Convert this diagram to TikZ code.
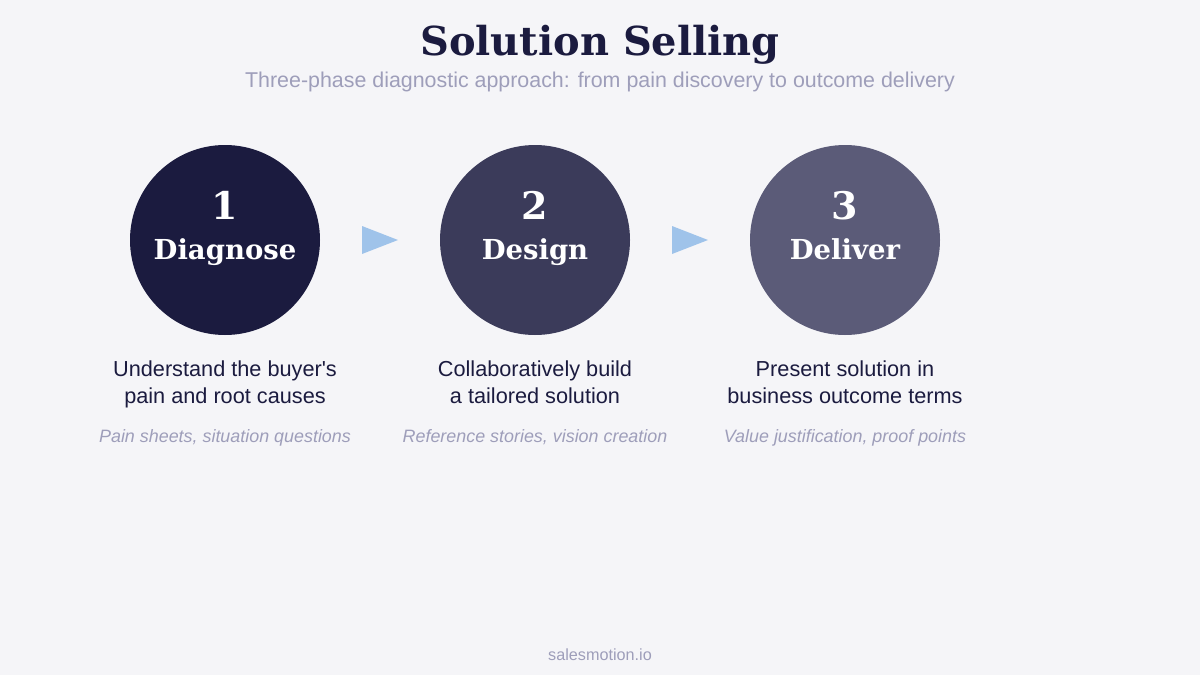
\documentclass[tikz,border=0pt]{standalone}
\usepackage{fontspec}
\setmainfont{DejaVu Serif}
\newfontfamily\sansf{Liberation Sans}
\definecolor{bgc}{HTML}{F5F5F8}
\definecolor{navy}{HTML}{1B1B3F}
\definecolor{c2col}{HTML}{3B3B5A}
\definecolor{c3col}{HTML}{5B5B78}
\definecolor{arrowc}{HTML}{9FC3EA}
\definecolor{subc}{HTML}{9E9EBA}
\tikzset{
  phase/.style={circle, minimum size=190pt, inner sep=0pt, draw=none},
  num/.style={anchor=base, text=white, font=\fontsize{38}{38}\selectfont\bfseries},
  pname/.style={anchor=base, text=white, font=\fontsize{27.5}{28}\selectfont\bfseries},
  desc/.style={anchor=base, text=navy, align=center, font=\sansf\fontsize{21.7}{27}\selectfont},
  tools/.style={anchor=base, text=subc, font=\sansf\itshape\fontsize{17.9}{20}\selectfont},
  tri/.style={fill=arrowc},
}
\begin{document}
\begin{tikzpicture}[x=1pt,y=-1pt]
\useasboundingbox (0,0) rectangle (1200,675);
\fill[bgc] (0,0) rectangle (1200,675);
\node[anchor=base, text=navy, font=\fontsize{39.9}{42}\selectfont\bfseries] (title) at (600,55) {Solution Selling};
\node[anchor=base, text=subc, font=\sansf\fontsize{21.4}{24}\selectfont] (sub) at (600,87) {Three-phase diagnostic approach: from pain discovery to outcome delivery};

\node[phase, fill=navy] (c1) at (225,240) {};
\node[phase, fill=c2col] (c2) at (535,240) {};
\node[phase, fill=c3col] (c3) at (845,240) {};

\node[num] (n1) at (225,219) {1};
\node[pname] (p1) at (225,259) {Diagnose};
\node[num] (n2) at (535,219) {2};
\node[pname] (p2) at (535,259) {Design};
\node[num] (n3) at (845,219) {3};
\node[pname] (p3) at (845,259) {Deliver};

\fill[tri] (362,226) -- (398,240) -- (362,254) -- cycle;
\fill[tri] (672,226) -- (708,240) -- (672,254) -- cycle;

\node[desc] (d1a) at (225,376) {Understand the buyer's};
\node[desc] (d1b) at (225,403) {pain and root causes};
\node[desc] (d2a) at (535,376) {Collaboratively build};
\node[desc] (d2b) at (535,403) {a tailored solution};
\node[desc] (d3a) at (845,376) {Present solution in};
\node[desc] (d3b) at (845,403) {business outcome terms};

\node[tools] (t1) at (225,442) {Pain sheets, situation questions};
\node[tools] (t2) at (535,442) {Reference stories, vision creation};
\node[tools] (t3) at (845,442) {Value justification, proof points};

\node[anchor=base, text=subc, font=\sansf\fontsize{16.2}{18}\selectfont] (foot) at (600,660) {salesmotion.io};
\end{tikzpicture}
\end{document}
